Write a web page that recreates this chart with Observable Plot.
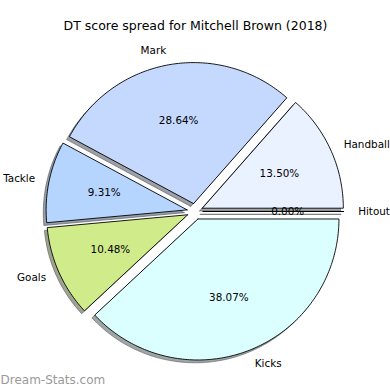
<!DOCTYPE html>
<html>
<head>
<meta charset="utf-8">
<script src="https://cdn.jsdelivr.net/npm/d3@7"></script>
<script src="https://cdn.jsdelivr.net/npm/@observablehq/plot@0.6"></script>
<style>
  html, body { margin: 0; padding: 0; background: #fff; }
  svg { font-family: "DejaVu Sans", sans-serif; }
</style>
</head>
<body>
<div id="chart"></div>
<script>
const titleText = "DT score spread for Mitchell Brown (2018)";
const watermark = "Dream-Stats.com";
const categories = ["Handball", "Mark", "Tackle", "Goals", "Kicks", "Hitout"];
const shares = [13.50, 28.64, 9.31, 10.48, 38.07, 0.00];
const sliceColors = ["#EAF1FF", "#C5D9FF", "#B5D5FF", "#D0EB8A", "#DBFFFF", "#DDDDDD"];
const explode = 0.057;      // fraction of radius
const shadowOffset = -0.02; // data units
const labelDistance = 1.1;
const pctDistance = 0.6;

const total = d3.sum(shares);
const wedges = [];
const shadows = [];
const labels = [];
const pcts = [];
let theta1 = 0;
categories.forEach((name, i) => {
  const frac = shares[i] / total;
  const theta2 = theta1 + frac * 2 * Math.PI;
  const tm = (theta1 + theta2) / 2;
  const cx = explode * Math.cos(tm);
  const cy = explode * Math.sin(tm);
  const pts = [[cx, cy]];
  const n = Math.max(1, Math.ceil((theta2 - theta1) / (Math.PI / 180)));
  for (let k = 0; k <= n; k++) {
    const t = theta1 + (theta2 - theta1) * k / n;
    pts.push([cx + Math.cos(t), cy + Math.sin(t)]);
  }
  pts.push([cx, cy]);
  const c = d3.rgb(sliceColors[i]);
  const sc = d3.rgb(c.r * 0.3, c.g * 0.3, c.b * 0.3).formatHex();
  pts.forEach(([x, y], k) => {
    wedges.push({name, x, y, color: sliceColors[i], k});
    shadows.push({name, x: x + shadowOffset, y: y + shadowOffset, color: sc, k});
  });
  labels.push({name, x: cx + labelDistance * Math.cos(tm), y: cy + labelDistance * Math.sin(tm)});
  pcts.push({text: (frac * 100).toFixed(2) + "%", x: cx + pctDistance * Math.cos(tm), y: cy + pctDistance * Math.sin(tm)});
  theta1 = theta2;
});

const cxPix = 194.5, cyPix = 211, rPix = 141;

const chart = Plot.plot({
  width: 390,
  height: 390,
  margin: 0,
  x: {domain: [-1, 1], range: [cxPix - rPix, cxPix + rPix], axis: null},
  y: {domain: [-1, 1], range: [cyPix + rPix, cyPix - rPix], axis: null},
  color: {type: "identity"},
  style: {fontFamily: "DejaVu Sans, sans-serif", background: "#fff", overflow: "visible"},
  marks: [
    Plot.line(shadows, {x: "x", y: "y", z: "name", fill: "color", stroke: "color", fillOpacity: 0.5, strokeOpacity: 0.5, strokeWidth: 1, curve: "linear"}),
    Plot.line(wedges, {x: "x", y: "y", z: "name", fill: "color", stroke: "black", strokeWidth: 0.9, strokeLinejoin: "miter", curve: "linear"}),
    Plot.text(labels.filter(d => d.x > 0), {x: "x", y: "y", text: "name", textAnchor: "start", fontSize: 10.4, fill: "black"}),
    Plot.text(labels.filter(d => d.x <= 0), {x: "x", y: "y", text: "name", textAnchor: "end", fontSize: 10.4, fill: "black"}),
    Plot.text(pcts, {x: "x", y: "y", text: "text", textAnchor: "middle", fontSize: 10.4, fill: "black"}),
    Plot.text([titleText], {frameAnchor: "top", lineAnchor: "middle", dy: 25, fontSize: 12.5, fill: "black"}),
    Plot.text([watermark], {frameAnchor: "bottom-left", textAnchor: "start", lineAnchor: "middle", dy: -10, dx: 0, fontSize: 12, fill: "#999"})
  ]
});
document.getElementById("chart").appendChild(chart);
</script>
</body>
</html>
